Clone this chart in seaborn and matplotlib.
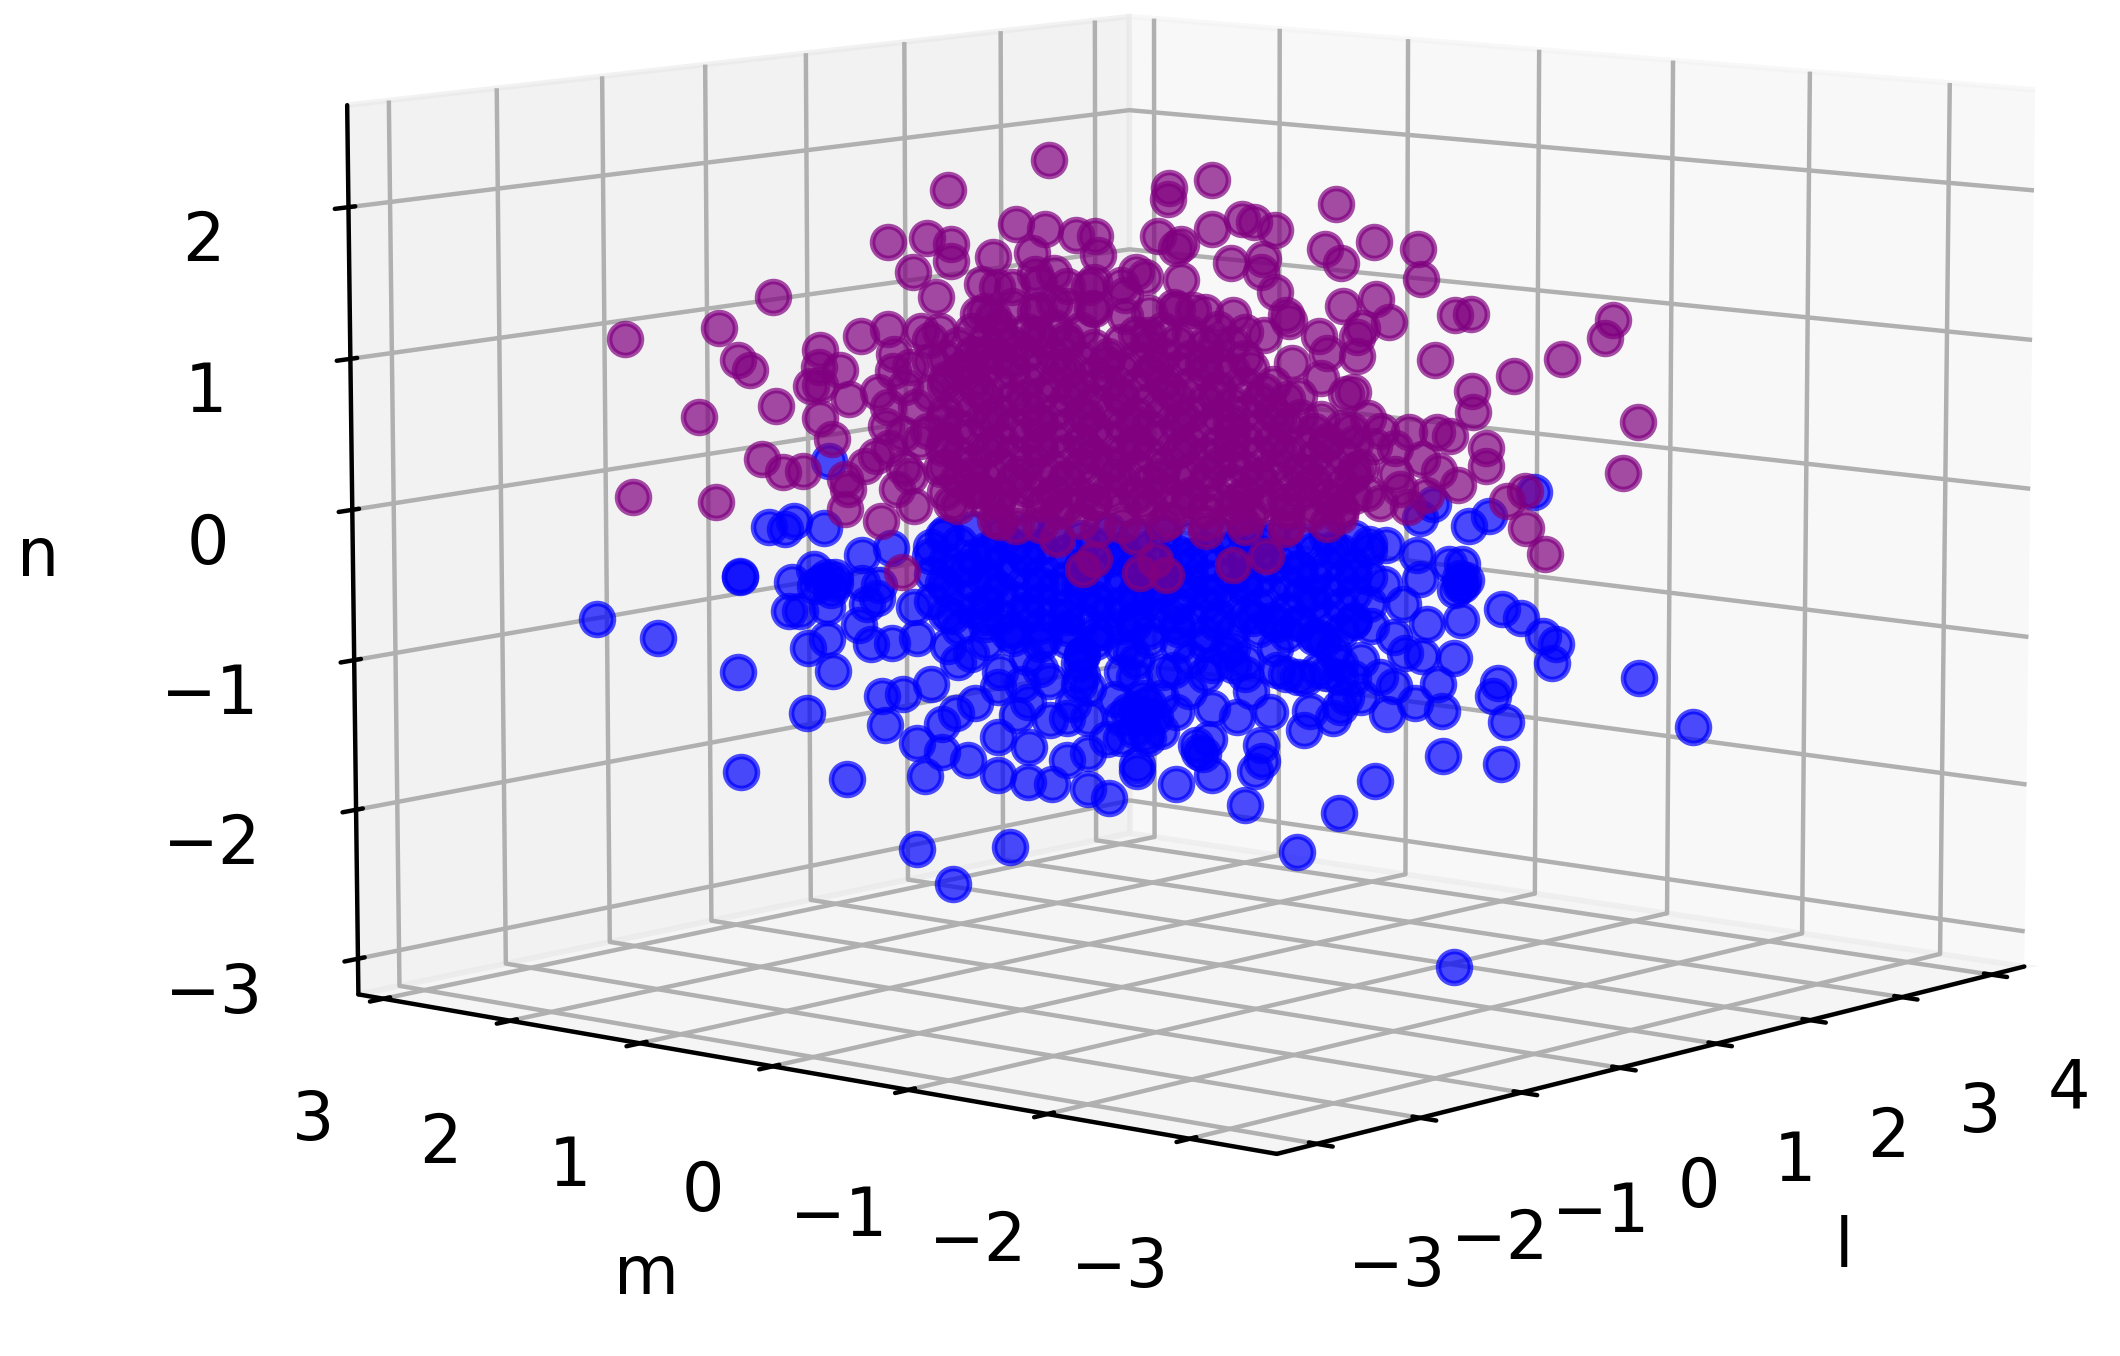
import matplotlib
matplotlib.use('Agg')
import matplotlib.pyplot as plt
import pandas as pd
import seaborn as sns

# values. a single view can't give depth, so each
# point sits near the plane through the middle of the box facing the viewer
purple_l = [-.42,-.79,.02,.02,.18,.63,-1.01,-.87,-.78,-.78,-.92,-.54,-.43,-.32,-.25,-.62,-.24,-.48,-.02,.07,.05,.18,.29,.33,.41,.25,.37,.36,.41,.07,-.10,-.07,.59,.65,.77,.93,.94,.66,.78,.83,.73,1.07,1.12,
    -1.98,-1.63,-1.43,-1.56,-1.52,-1.42,-1.71,-1.96,-1.65,-1.48,-1.40,-1.33,-1.26,-1.27,-1.19,-1.30,-1.26,-1.15,-1.26,-1.22,-1.17,-1.16,-1.17,-1.04,-.98,-.92,-.96,-1.10,-.95,-.82,-1.11,-1.01,-.99,-.99,-1.05,-.95,-1.02,-.87,-.89,-.83,-.89,-.82,-.86,-.80,
    -.67,-.61,-.47,-.40,-.27,-.26,-.68,-.62,-.47,-.40,-.14,-.14,-.60,-.66,-.46,.45,.46,.26,.04,.11,.57,.60,.58,.67,.58,.69,.50,.71,.71,
    .99,1.28,1.45,1.64,1.61,1.73,1.68,1.13,1.13,1.18,1.18,.90,1.00,1.05,1.08,.87,1.01,.96,1.26,1.32,1.33,1.40,.80,.85,.95,.72,.75,.65,.54,
    -.62,-.54,-.39,-.30,-.25,-.24,-.10,-.09,-.03,.01,.02,.16,.26,.38,.28,.45,.32,-.68,-.39,
    -.36,-.06,.20,.37,-.73,-.56,-.38,-.21,-.03,.15,.32,.47,-.86,-.68,-.51,-.33,-.16,.02,.20,.37,
    -.81,-.63,-.46,-.28,-.11,.07,.25,.42,-1.01,-.81,-.63,-.46,-.28,-.11,.07,.25,.42,.60,.77,
    -.71,-.53,-.36,-.18,-.01,.17,.35,.52,.70,-.78,-.61,-.43,-.26,-.08,.10,.27,.45,.62,.80,
    -.60,-.45,-.30,-.15,.00,.15,.30,.45,.60,-1.01,-.96,-1.06,-.93,-.91,-.93,-.86,.75,.70,.85,.90]
purple_m = [.54,1.02,-.03,-.02,-.23,-.82,1.31,1.12,1.01,1.01,1.19,.70,.56,.41,.32,.81,.31,.62,.02,-.08,-.06,-.23,-.37,-.43,-.53,-.32,-.47,-.46,-.53,-.08,.13,.08,-.77,-.84,-1.00,-1.21,-1.22,-.85,-1.01,-1.07,-.94,-1.38,-1.46,
    2.57,2.12,1.86,2.03,1.97,1.85,2.22,2.54,2.14,1.92,1.82,1.72,1.64,1.64,1.54,1.68,1.64,1.50,1.64,1.58,1.52,1.51,1.52,1.35,1.27,1.19,1.25,1.42,1.24,1.06,1.44,1.31,1.28,1.29,1.36,1.23,1.32,1.12,1.16,1.08,1.15,1.06,1.11,1.03,
    .86,.79,.61,.52,.35,.34,.88,.81,.61,.52,.18,.18,.77,.85,.60,-.58,-.60,-.33,-.05,-.14,-.74,-.78,-.75,-.87,-.75,-.89,-.64,-.92,-.92,
    -1.29,-1.66,-1.89,-2.13,-2.09,-2.25,-2.18,-1.46,-1.47,-1.53,-1.53,-1.17,-1.30,-1.36,-1.40,-1.12,-1.31,-1.25,-1.63,-1.72,-1.72,-1.81,-1.03,-1.10,-1.23,-.94,-.97,-.84,-.70,
    .80,.70,.51,.38,.33,.31,.13,.11,.04,-.01,-.03,-.20,-.33,-.49,-.36,-.58,-.41,.88,.50,
    .46,.07,-.25,-.48,.95,.72,.49,.27,.04,-.19,-.42,-.61,1.11,.88,.66,.43,.20,-.03,-.25,-.48,
    1.05,.82,.59,.36,.14,-.09,-.32,-.55,1.31,1.05,.82,.59,.36,.14,-.09,-.32,-.55,-.77,-1.00,
    .92,.69,.46,.23,.01,-.22,-.45,-.68,-.90,1.01,.79,.56,.33,.10,-.12,-.35,-.58,-.81,-1.03,
    .78,.59,.39,.20,.00,-.20,-.39,-.59,-.78,1.31,1.24,1.37,1.21,1.18,1.21,1.11,-.97,-.90,-1.10,-1.16]
purple_n = [2.24,2.03,2.06,1.99,2.12,1.97,1.68,1.71,1.67,1.56,1.48,1.81,1.78,1.74,1.74,1.59,1.61,1.62,1.74,1.69,1.66,1.79,1.86,1.84,1.79,1.57,1.60,1.51,1.38,1.45,1.50,1.47,1.67,1.58,1.72,1.68,1.48,1.29,1.34,1.19,1.15,1.24,1.25,
    1.01,1.09,1.30,.88,.81,.57,.49,-.05,-.08,.22,.13,.14,.95,.84,.82,.71,.72,.63,.50,.36,.09,.02,-.11,-.19,.03,-.08,-.53,.18,.17,.17,1.05,1.10,.93,.82,.68,.71,.45,.42,.35,1.32,1.09,1.09,.89,.77,
    1.41,1.39,1.48,1.49,1.40,1.26,1.21,1.19,1.23,1.29,1.35,1.21,1.05,.94,1.08,1.23,1.19,1.22,1.27,1.25,1.09,.98,.81,.71,.54,.47,.69,1.09,.96,
    .94,.84,.96,1.22,1.10,.55,.21,.74,.60,.36,.24,.46,.46,.44,.11,.08,.20,.04,.01,.08,-.17,-.34,.46,.35,.28,.22,.05,-.11,-.10,
    -.17,-.21,-.29,-.49,-.42,-.22,-.27,-.51,-.42,-.52,-.15,-.22,-.45,-.38,-.13,-.20,-.11,.03,-.10,
    1.05,1.08,1.03,1.09,.85,.90,.86,.89,.87,.90,.87,.91,.67,.70,.66,.71,.68,.72,.69,.72,
    .49,.52,.48,.53,.50,.53,.51,.54,.30,.31,.32,.33,.31,.35,.33,.36,.34,.37,.36,
    .13,.14,.12,.15,.14,.17,.15,.18,.17,-.06,-.05,-.04,-.04,-.03,-.02,-.02,-.02,-.01,-.02,
    -.18,-.20,-.17,-.19,-.18,-.17,-.19,-.18,-.16,.58,.40,.25,.12,.58,.85,1.03,.55,.72,.18,-.04]

# the purple core is solid in the picture, single points can't be told apart there
purple_core_l = [-.75,-.65,-.55,-.45,-.35,-.25,-.15,-.05,.05,.15,.25,.35,.45,.55,.65,
    -.80,-.70,-.60,-.50,-.40,-.30,-.20,-.10,.00,.10,.20,.30,.40,.50,.60,.70,
    -.75,-.65,-.55,-.45,-.35,-.25,-.15,-.05,.05,.15,.25,.35,.45,.55,.65,
    -.80,-.70,-.60,-.50,-.40,-.30,-.20,-.10,.00,.10,.20,.30,.40,.50,.60,.70,
    -.75,-.65,-.55,-.45,-.35,-.25,-.15,-.05,.05,.15,.25,.35,.45,.55,.65,
    -.80,-.70,-.60,-.50,-.40,-.30,-.20,-.10,.00,.10,.20,.30,.40,.50,.60,.70,
    -.75,-.65,-.55,-.45,-.35,-.25,-.15,-.05,.05,.15,.25,.35,.45,.55,.65,
    -.80,-.70,-.60,-.50,-.40,-.30,-.20,-.10,.00,.10,.20,.30,.40,.50,
    -.75,-.65,-.55,-.45,-.35,-.25,-.15,-.05,.05,.15,.25,.35,.45,
    -.80,-.70,-.60,-.50,-.40,-.30,-.20,-.10,.00,.10,.20,.30,.40,
    -.75,-.65,-.55,-.45,-.35,-.25,-.15,-.05,.05,.15,.25,
    -.80,-.70,-.60,-.50,-.40,-.30,-.20,-.10,.00,.10,.20,.30,
    -.75,-.65,-.55,-.45,-.35,-.25,-.15,-.05,.05,.15,.25,
    -.70,-.60,-.50,-.40,-.30,-.10,.00,.10,.20,.30,
    -.65,-.55,-.45,-.35,-.25,-.05,.05,.15,
    -.55,-.45,-.35,-.25,-.15]
purple_core_m = [.98,.85,.72,.59,.46,.33,.20,.07,-.07,-.20,-.33,-.46,-.59,-.72,-.85,
    1.04,.91,.78,.65,.52,.39,.26,.13,.00,-.13,-.26,-.39,-.52,-.65,-.78,-.91,
    .98,.85,.72,.59,.46,.33,.20,.07,-.07,-.20,-.33,-.46,-.59,-.72,-.85,
    1.04,.91,.78,.65,.52,.39,.26,.13,.00,-.13,-.26,-.39,-.52,-.65,-.78,-.91,
    .98,.85,.72,.59,.46,.33,.20,.07,-.07,-.20,-.33,-.46,-.59,-.72,-.85,
    1.04,.91,.78,.65,.52,.39,.26,.13,.00,-.13,-.26,-.39,-.52,-.65,-.78,-.91,
    .98,.85,.72,.59,.46,.33,.20,.07,-.07,-.20,-.33,-.46,-.59,-.72,-.85,
    1.04,.91,.78,.65,.52,.39,.26,.13,.00,-.13,-.26,-.39,-.52,-.65,
    .98,.85,.72,.59,.46,.33,.20,.07,-.07,-.20,-.33,-.46,-.59,
    1.04,.91,.78,.65,.52,.39,.26,.13,.00,-.13,-.26,-.39,-.52,
    .98,.85,.72,.59,.46,.33,.20,.07,-.07,-.20,-.33,
    1.04,.91,.78,.65,.52,.39,.26,.13,.00,-.13,-.26,-.39,
    .98,.85,.72,.59,.46,.33,.20,.07,-.07,-.20,-.33,
    .91,.78,.65,.52,.39,.13,.00,-.13,-.26,-.39,
    .85,.72,.59,.46,.33,.07,-.07,-.20,
    .72,.59,.46,.33,.20]
purple_core_n = [-.08,-.05,-.09,-.06,-.07,-.04,-.08,-.06,-.05,-.08,-.06,-.04,-.07,-.05,-.06,
    .01,.03,.00,.04,.02,.00,.03,.01,.04,.02,.00,.03,.01,.04,.02,.03,
    .10,.12,.09,.13,.11,.08,.12,.10,.13,.09,.11,.13,.10,.12,.11,
    .18,.21,.19,.22,.18,.20,.22,.19,.21,.18,.22,.20,.21,.19,.22,.20,
    .27,.30,.28,.31,.29,.27,.30,.28,.31,.29,.27,.30,.31,.28,.30,
    .36,.39,.37,.40,.38,.36,.39,.37,.40,.38,.36,.39,.40,.37,.39,.38,
    .45,.48,.46,.49,.47,.45,.48,.46,.49,.47,.45,.48,.49,.46,.48,
    .54,.57,.55,.58,.56,.54,.57,.55,.58,.56,.54,.57,.58,.55,
    .63,.66,.64,.67,.65,.63,.66,.64,.67,.65,.63,.66,.67,
    .73,.76,.74,.77,.75,.73,.76,.74,.77,.75,.73,.76,.77,
    .82,.85,.83,.86,.84,.82,.85,.83,.86,.84,.85,
    .91,.94,.92,.95,.93,.91,.94,.92,.95,.93,.91,.94,
    1.00,1.03,1.01,1.04,1.02,1.00,1.03,1.01,1.04,1.02,1.03,
    1.09,1.12,1.10,1.13,1.11,1.09,1.12,1.10,1.13,1.11,
    1.23,1.26,1.24,1.27,1.25,1.23,1.26,1.24,
    1.39,1.42,1.40,1.43,1.41]

blue_l = [-1.45,-1.36,-1.39,-1.25,-1.56,-1.56,-2.09,-1.87,-1.57,-1.32,-1.37,-1.29,-1.24,-1.21,-1.23,-1.38,-1.34,-1.24,-1.11,-1.00,-1.05,-1.09,-1.05,-1.12,-1.08,-1.00,-.92,-1.31,-1.24,-1.22,-1.04,-.96,-1.03,-.79,-.76,-.91,-.82,-.82,-.77,
    -1.56,-1.17,-.88,-.91,-.78,-.57,-.20,.05,-.28,-.41,-.50,-.61,.18,.30,.65,.49,-.10,.34,1.07,1.74,1.94,1.24,1.31,1.39,1.44,1.42,.97,1.09,.89,.95,1.07,1.01,.92,.82,1.02,1.23,1.21,1.26,1.03,1.24,.78,
    1.10,1.11,1.07,.88,.76,.81,.94,.73,.73,1.36,1.19,1.12,.94,.99,.93,1.05,1.10,.82,.75,.67,.54,.52,.39,.36,.37,.13,.27,.18,-.10,-.07,-.28,-.10,-.36,-.50,-.42,-.61,-.72,-.70,-.54,-.61,-.52,-.42,-.28,
    .52,.59,.54,.42,.41,.42,.26,.23,-.71,-.57,-.44,-.30,.04,-.12,-.22,.05,.18,.33,.17,-.02,-.24,-.45,-.63,-.72,-.63,
    -.81,-.51,-.31,-.11,.10,.30,.50,.70,.62,-.81,-.86,-.78,-.66,-.51,-.36,-.11,.20,.50,.70,.85,.80,.65,.62,-.11,-.06,-.16,-.01,-.21,.10,.32,-.36,-1.11,-.86,-.91,-.16,.10,.35,-1.23,
    -.18,-.13,-.08,-.03,-.11,-.06,-.16,-.01,-.08,-.08,-.31,-.31,-.33,-.28,.12,.15,.17,.50,.57,.65,.62,.57,.70,-1.26,-1.28,-1.21,1.09,1.09,
    -.60,-.45,-.30,-.15,.00,.15,.30,.45,.60,-.50,.05,.65,.85]
blue_m = [1.89,1.77,1.81,1.62,2.03,2.03,2.72,2.42,2.04,1.71,1.78,1.67,1.61,1.57,1.59,1.79,1.74,1.61,1.44,1.30,1.36,1.42,1.37,1.46,1.40,1.30,1.19,1.70,1.61,1.58,1.35,1.25,1.33,1.03,.98,1.18,1.06,1.06,.99,
    2.03,1.52,1.14,1.18,1.01,.73,.26,-.06,.36,.53,.65,.79,-.23,-.39,-.84,-.64,.12,-.44,-1.39,-2.26,-2.52,-1.61,-1.70,-1.81,-1.87,-1.85,-1.25,-1.42,-1.15,-1.23,-1.38,-1.31,-1.20,-1.07,-1.33,-1.59,-1.57,-1.63,-1.33,-1.61,-1.01,
    -1.42,-1.44,-1.39,-1.14,-.99,-1.05,-1.22,-.94,-.94,-1.76,-1.55,-1.45,-1.22,-1.28,-1.21,-1.36,-1.42,-1.06,-.98,-.87,-.70,-.67,-.51,-.47,-.47,-.17,-.35,-.23,.13,.08,.36,.12,.46,.64,.54,.79,.94,.90,.70,.79,.68,.55,.36,
    -.68,-.77,-.70,-.54,-.53,-.54,-.33,-.30,.92,.74,.57,.39,-.05,.15,.28,-.06,-.23,-.43,-.22,.02,.31,.58,.82,.94,.82,
    1.05,.66,.40,.14,-.12,-.38,-.64,-.90,-.81,1.05,1.11,1.01,.85,.66,.46,.14,-.25,-.64,-.90,-1.10,-1.03,-.84,-.81,.14,.07,.20,.01,.27,-.12,-.42,.46,1.44,1.11,1.18,.20,-.12,-.45,1.60,
    .23,.17,.10,.04,.14,.07,.20,.01,.10,.10,.40,.40,.43,.36,-.16,-.19,-.22,-.64,-.74,-.84,-.81,-.74,-.90,1.63,1.67,1.57,-1.41,-1.41,
    .78,.59,.39,.20,.00,-.20,-.39,-.59,-.78,.65,-.06,-.84,-1.10]
blue_n = [-.24,-.20,-.25,-.24,-.57,-.58,-.88,-1.00,-1.22,-1.49,-.61,-.52,-.57,-.61,-.66,-.80,-.80,-.77,-.42,-.37,-.62,-.75,-.71,-.89,-1.02,-1.01,-.76,-1.05,-.99,-1.20,-1.37,-1.35,-1.56,-1.02,-1.13,-1.68,-1.55,-1.74,-1.47,
    -1.90,-1.93,-1.90,-2.40,-2.63,-2.37,-2.03,-1.93,-1.97,-1.94,-1.93,-1.89,-1.86,-2.06,-2.10,-2.37,-1.84,-1.83,-3.13,-1.16,-1.48,-.71,-.77,-.89,-.94,-1.07,-.82,-.79,-1.02,-1.04,-1.05,-1.22,-1.35,-1.43,-1.40,-1.21,-1.30,-1.47,-1.71,-1.75,-1.88,
    -.56,-.52,-.59,-.69,-.84,-.56,-.52,-1.07,-1.32,.07,-.09,-.16,-.11,-.02,-.36,-.42,-.42,-.30,-.29,-1.32,-1.42,-1.55,-1.43,-1.65,-1.76,-1.71,-1.47,-1.41,-1.44,-1.59,-1.73,-1.80,-1.78,-1.69,-1.51,-1.63,-1.79,-1.40,-1.48,-1.29,-1.27,-1.25,-1.29,
    -1.20,-.94,-.63,-.84,-1.00,-1.15,-1.12,-1.03,-1.07,-.92,-.96,-1.06,-1.16,-1.04,-.91,-.85,-1.12,-.80,-.64,-.65,-.71,-.60,-.60,-.49,-.38,
    -.28,-.41,-.59,-.67,-.57,-.56,-.46,-.50,-.33,-.60,-.42,-.82,-.82,-.77,-.81,-.85,-.84,-.83,-.82,-.91,-1.18,-1.10,-1.46,-1.21,-1.39,-1.49,-1.57,-1.63,-1.30,-1.29,-1.49,-.61,-1.28,-.97,-.40,-.39,-.29,.21,
    -1.36,-1.44,-1.35,-1.48,-1.57,-1.62,-1.62,-1.35,-1.48,-1.46,-1.12,-1.26,-1.40,-1.49,-1.66,-1.72,-1.62,-1.19,-1.14,-1.19,-1.01,-.92,-1.19,-.60,-.63,-.57,-.51,-.56,
    -1.19,-1.17,-1.20,-1.18,-1.17,-1.19,-1.18,-1.17,-1.16,-1.39,-1.44,-1.39,-1.24]

blue_core_l = [-.80,-.70,-.60,-.50,-.40,-.30,-.20,-.10,.00,.10,.20,.30,.40,.50,.60,.70,
    -.85,-.75,-.65,-.55,-.45,-.35,-.25,-.15,-.05,.05,.15,.25,.35,.45,.55,.65,.75,
    -.80,-.70,-.60,-.50,-.40,-.30,-.20,-.10,.00,.10,.20,.30,.40,.50,.60,.70,
    -.85,-.75,-.65,-.55,-.45,-.35,-.25,-.15,-.05,.05,.15,.25,.35,.45,.55,.65,.75,
    -.80,-.70,-.60,-.50,-.40,-.30,-.20,-.10,.00,.10,.20,.30,.40,.50,.60,.70,
    -.85,-.75,-.65,-.55,-.45,-.35,-.25,-.15,-.05,.05,.15,.25,.35,.45,.55,.65,.75,
    -.80,-.70,-.60,-.50,-.40,-.30,-.20,-.10,.00,.10,.20,.30,.40,.50,.60,.70,
    -.75,-.65,-.55,-.45,-.35,-.25,-.15,-.05,.05,.15,.25,.35,.45,.55,.65,
    -.65,-.55,-.45,-.35,-.25,-.15,-.05,.05,.15,.25,
    -.50,-.30,-.10,.10,.30]
blue_core_m = [1.04,.91,.78,.65,.52,.39,.26,.13,.00,-.13,-.26,-.39,-.52,-.65,-.78,-.91,
    1.11,.98,.85,.72,.59,.46,.33,.20,.07,-.07,-.20,-.33,-.46,-.59,-.72,-.85,-.98,
    1.04,.91,.78,.65,.52,.39,.26,.13,.00,-.13,-.26,-.39,-.52,-.65,-.78,-.91,
    1.11,.98,.85,.72,.59,.46,.33,.20,.07,-.07,-.20,-.33,-.46,-.59,-.72,-.85,-.98,
    1.04,.91,.78,.65,.52,.39,.26,.13,.00,-.13,-.26,-.39,-.52,-.65,-.78,-.91,
    1.11,.98,.85,.72,.59,.46,.33,.20,.07,-.07,-.20,-.33,-.46,-.59,-.72,-.85,-.98,
    1.04,.91,.78,.65,.52,.39,.26,.13,.00,-.13,-.26,-.39,-.52,-.65,-.78,-.91,
    .98,.85,.72,.59,.46,.33,.20,.07,-.07,-.20,-.33,-.46,-.59,-.72,-.85,
    .85,.72,.59,.46,.33,.20,.07,-.07,-.20,-.33,
    .65,.39,.13,-.13,-.39]
blue_core_n = [-.26,-.23,-.27,-.24,-.25,-.28,-.23,-.26,-.24,-.27,-.25,-.23,-.26,-.28,-.24,-.25,
    -.36,-.33,-.37,-.34,-.35,-.38,-.33,-.36,-.34,-.37,-.35,-.33,-.36,-.38,-.34,-.35,-.33,
    -.45,-.42,-.46,-.43,-.44,-.47,-.42,-.45,-.43,-.46,-.44,-.42,-.45,-.47,-.43,-.44,
    -.54,-.51,-.55,-.52,-.53,-.56,-.51,-.54,-.52,-.55,-.53,-.51,-.54,-.56,-.52,-.53,-.51,
    -.63,-.60,-.64,-.61,-.62,-.65,-.60,-.63,-.61,-.64,-.62,-.60,-.63,-.65,-.61,-.62,
    -.72,-.69,-.73,-.70,-.71,-.74,-.69,-.72,-.70,-.73,-.71,-.69,-.72,-.74,-.70,-.71,-.69,
    -.81,-.78,-.82,-.79,-.80,-.83,-.78,-.81,-.79,-.82,-.80,-.78,-.81,-.83,-.79,-.80,
    -.90,-.87,-.91,-.88,-.89,-.92,-.87,-.90,-.88,-.91,-.89,-.87,-.90,-.92,-.88,
    -.99,-.96,-1.00,-.97,-.98,-1.01,-.96,-.99,-.97,-1.00,
    -1.09,-1.07,-1.10,-1.08,-1.09]

# the values above were read with the box a little further along l
l_offset = 0.42

sns.set_style('ticks', {'text.color': 'black', 'xtick.color': 'black', 'ytick.color': 'black',
                        'axes.labelcolor': 'black', 'axes.edgecolor': 'black'})
plt.rcParams['grid.color'] = '#b0b0b0'
plt.rcParams['font.size'] = 12

blue_df = pd.DataFrame({'l': blue_l + blue_core_l, 'm': blue_m + blue_core_m, 'n': blue_n + blue_core_n})
purple_df = pd.DataFrame({'l': purple_l + purple_core_l, 'm': purple_m + purple_core_m, 'n': purple_n + purple_core_n})
blue_df['l'] += l_offset
purple_df['l'] += l_offset

fig = plt.figure(figsize=(5.3, 3.39), dpi=400)
ax = fig.add_axes([-0.147, -0.100, 1.4, 1.364], projection='3d')
ax.computed_zorder = False
ax.scatter(blue_df['l'], blue_df['m'], blue_df['n'], c='blue', s=33, alpha=0.7, depthshade=False)
ax.scatter(purple_df['l'], purple_df['m'], purple_df['n'], c='purple', s=33, alpha=0.7, depthshade=False)
ax.set_xlim(-3.38, 4.37)
ax.set_ylim(-3.6, 3.2)
ax.set_zlim(-3.24, 2.67)
ax.set_xticks(range(-3, 5))
ax.set_yticks(range(-3, 4))
ax.set_zticks(range(-3, 3))
ax.tick_params(axis='x', pad=6)
ax.tick_params(axis='y', pad=6.5)
ax.tick_params(axis='z', pad=6.7)
ax.set_xlabel('l', labelpad=10)
ax.set_ylabel('m', labelpad=10.7)
ax.set_zlabel('n', labelpad=11)
ax.view_init(8.5, 220)
fig.savefig('out.png', dpi=400)
